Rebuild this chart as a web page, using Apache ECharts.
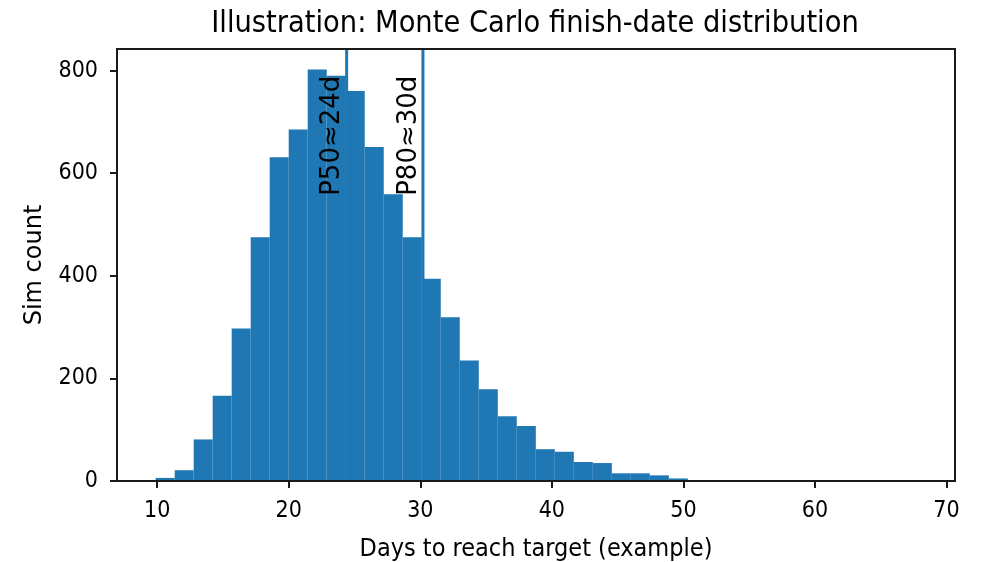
<!DOCTYPE html>
<html>
<head>
<meta charset="utf-8">
<script src="https://cdn.jsdelivr.net/npm/echarts@6/dist/echarts.min.js"></script>
<style>
html,body{margin:0;padding:0;background:#fff;}
#chart{width:986px;height:562px;}
</style>
</head>
<body>
<div id="chart"></div>
<script>
// ---- data ----
const binStart = 9.88;
const binWidth = 1.445;
const counts = [6, 21, 81, 166, 297, 475, 631, 685, 802, 790,
                760, 651, 559, 475, 394, 319, 235, 179, 126, 107,
                62, 57, 37, 35, 15, 15, 11, 5, 2, 0,
                2, 0, 0, 0, 0, 0, 0, 0, 0, 1];
const percentileNames = ['P50', 'P80'];
const percentileValues = [24.4, 30.2];
const percentileLabels = ['P50≈24d', 'P80≈30d'];
const labelY = 790;
const xTicks = [10, 20, 30, 40, 50, 60, 70];
const yTicks = [0, 200, 400, 600, 800];
const xMin = 6.94, xMax = 70.65, yMax = 842;

const FONT_H = '"DejaVu Sans Condensed", "DejaVu Sans", sans-serif';
const FONT_V = '"DejaVu Sans", sans-serif';
const histData = counts.map((c, i) => [binStart + i * binWidth, binStart + (i + 1) * binWidth, c]);
const labelData = percentileValues.map((v, i) => [v, labelY, percentileLabels[i]]);

const chart = echarts.init(document.getElementById('chart'), null, {renderer: 'canvas'});
const lineSeries = percentileValues.map((v, i) => ({
  type: 'line',
  name: percentileNames[i],
  data: [[v, 0], [v, yMax]],
  showSymbol: false,
  symbol: 'none',
  lineStyle: {color: '#1f77b4', width: 3},
  z: 5,
  silent: true,
  animation: false
}));

chart.setOption({
  animation: false,
  backgroundColor: '#fff',
  title: {
    text: 'Illustration: Monte Carlo finish-date distribution',
    left: 530, top: 4, textAlign: 'center',
    textStyle: {fontFamily: FONT_H, fontSize: 30.4, fontWeight: 'normal', color: '#000'}
  },
  grid: {left: 117, right: 31, top: 49, bottom: 81, show: true, borderColor: '#1a1a1a', borderWidth: 2, z: 10,
         backgroundColor: 'transparent', outerBoundsMode: 'none', containLabel: false},
  xAxis: {
    type: 'value', min: xMin, max: xMax,
    name: 'Days to reach target (example)', nameLocation: 'middle', nameGap: 56,
    nameTextStyle: {fontFamily: FONT_H, fontSize: 25, color: '#000'},
    axisLine: {show: true, onZero: false, lineStyle: {color: '#1a1a1a', width: 2}},
    axisTick: {show: true, length: 7, lineStyle: {color: '#1a1a1a', width: 2}, customValues: xTicks},
    axisLabel: {fontFamily: FONT_H, fontSize: 23, color: '#000', margin: 19, customValues: xTicks},
    splitLine: {show: false},
    z: 10
  },
  yAxis: {
    type: 'value', min: 0, max: yMax,
    name: 'Sim count', nameLocation: 'middle', nameGap: 70, nameRotate: 90,
    nameTextStyle: {fontFamily: FONT_V, fontSize: 24, color: '#000'},
    axisLine: {show: true, lineStyle: {color: '#1a1a1a', width: 2}},
    axisTick: {show: true, length: 7, lineStyle: {color: '#1a1a1a', width: 2}, customValues: yTicks},
    axisLabel: {fontFamily: FONT_H, fontSize: 23, color: '#000', margin: 19, customValues: yTicks},
    splitLine: {show: false},
    z: 10
  },
  series: [
    {
      type: 'custom',
      name: 'hist',
      data: histData,
      silent: true,
      z: 2,
      renderItem: function (params, api) {
        const p0 = api.coord([api.value(0), 0]);
        const p1 = api.coord([api.value(1), api.value(2)]);
        return {
          type: 'rect',
          shape: {x: p0[0], y: p1[1], width: p1[0] - p0[0], height: p0[1] - p1[1]},
          style: {fill: '#1f77b4'}
        };
      }
    },
    ...lineSeries,
    {
      type: 'custom',
      name: 'labels',
      data: labelData,
      silent: true,
      z: 6,
      renderItem: function (params, api) {
        const p = api.coord([api.value(0), api.value(1)]);
        return {
          type: 'text',
          x: p[0] - 1, y: p[1],
          rotation: Math.PI / 2,
          style: {
            text: labelData[params.dataIndex][2],
            align: 'right', verticalAlign: 'bottom',
            fontFamily: FONT_V, fontSize: 26, fill: '#000'
          }
        };
      }
    }
  ]
});
</script>
</body>
</html>
